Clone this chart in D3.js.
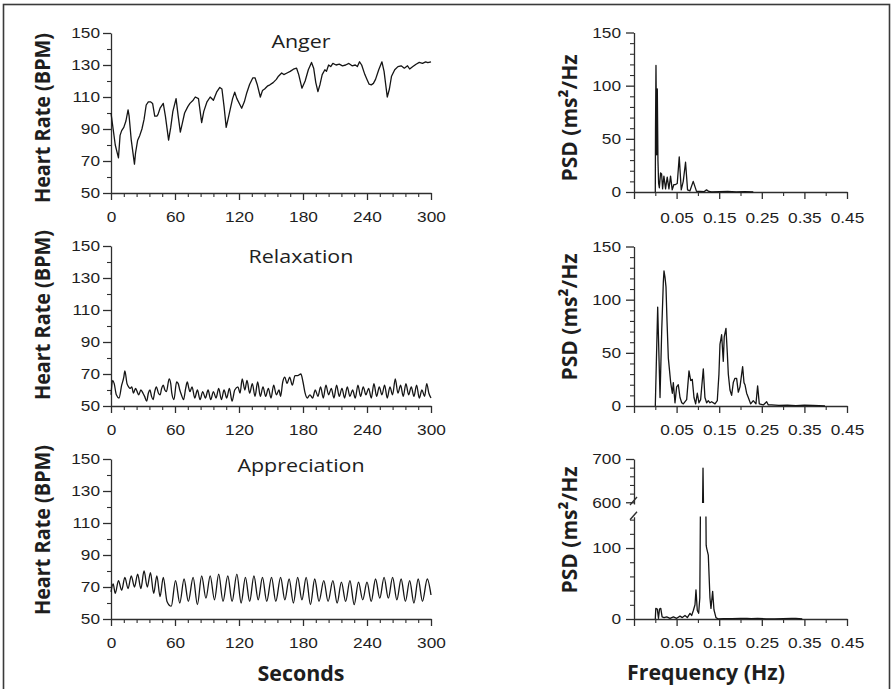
<!DOCTYPE html>
<html>
<head>
<meta charset="utf-8">
<script src="https://cdn.jsdelivr.net/npm/d3@7"></script>
<style>
  body { margin: 0; background: #fff; }
  svg { display: block; }
</style>
</head>
<body>
<svg id="chart" width="893" height="689"></svg>
<script>
// ---------- Heart rate traces (seconds, beats per minute) ----------
const angerTime = [
  0, 2, 4, 7, 8.5, 10, 12, 14, 16, 17,
  19, 22, 23, 25, 27, 29, 31, 33, 35, 37,
  39, 41, 43, 44, 46, 49, 51, 54, 56, 58,
  61, 63, 65, 67, 69, 72, 74, 77, 79, 82,
  85, 87, 90, 93, 96, 99, 102, 104, 106, 108,
  110, 112, 114, 116, 118, 121, 122.5, 125, 127, 130,
  133, 135, 137, 140, 142, 144, 147, 149, 152, 155,
  157, 160, 162, 165, 168, 171, 174, 176, 179, 182,
  185, 188, 190, 192, 194, 196, 198, 200.5, 202, 204,
  206, 208, 211, 214, 217, 220, 223, 226, 229, 231,
  233, 235, 238, 240, 242, 244, 246, 248, 251, 254,
  256, 259, 261, 263, 266, 269, 272, 275, 278, 280,
  283, 286, 289, 292, 295, 297, 300
];
const angerBPM = [
  100, 90, 80, 72, 86, 89, 91, 95, 102, 98,
  83, 68, 75, 83, 86, 90, 96, 105, 107, 107,
  106, 98, 98, 99, 103, 106, 98, 83, 91, 101,
  109, 98, 88, 94, 100, 104, 106, 108, 110, 109,
  94, 101, 107, 110, 108, 113, 116, 115, 104, 91,
  97, 103, 109, 113, 109, 105, 103, 107, 112, 118,
  122, 122, 118, 110, 114, 115, 117, 117.6, 119, 121,
  123, 125, 124, 125, 126, 127.4, 128, 124, 115.5, 120,
  127, 131.6, 128, 119, 113.4, 118, 124, 127, 126, 130,
  129, 131, 130, 130.5, 129.5, 130, 131, 129.5, 130, 129,
  132, 130, 124, 121, 118, 117.6, 118.5, 121, 127, 132,
  126, 110, 115, 123, 127, 129, 129.5, 128, 129.5, 127.5,
  129, 130.5, 131.6, 131, 132, 131.5, 132
];

const relaxTime = [
  0, 1.5, 3, 5, 7.5, 10, 12, 13, 15, 16.5,
  18, 19.5, 21, 23, 24.5, 26, 28, 30, 31.5, 33.5,
  35, 36.5, 38, 39.5, 41, 42.5, 44.5, 46, 47.5, 49,
  50.5, 52, 54.5, 56, 57, 59, 61.5, 63, 64.5, 66,
  68, 70, 71.5, 73, 74, 76, 78.5, 81, 83.5, 86,
  88.5, 91, 93.5, 96, 98.5, 101, 103.5, 106, 108.5, 111,
  113.5, 116, 119, 121, 123, 125.5, 127.5, 130, 132.5, 135,
  137.5, 140, 142.5, 145, 147.5, 150, 152.5, 155, 157.5, 159,
  161, 163, 165, 167.5, 170, 172.5, 175, 178, 180, 182,
  184, 186.5, 189, 191.5, 194, 196.5, 199, 201.5, 204, 206.5,
  209, 211.5, 214, 216.5, 219, 221.5, 224, 226.5, 229, 231.5,
  234, 236.5, 239, 241.5, 244, 246.5, 249, 251.5, 254, 256.5,
  259, 261.5, 264, 266.5, 269, 271.5, 274, 276.5, 279, 281.5,
  284, 286.5, 289, 291.5, 294, 296, 298, 300
];
const relaxBPM = [
  57, 66, 64, 57, 55, 63, 68, 72, 64, 62,
  61, 62, 58, 61, 59, 57, 60, 58, 56, 53,
  58, 60, 56, 54, 59, 62, 58, 57, 61, 63,
  60, 59, 67, 64, 58, 54, 65, 64, 60, 57,
  54, 61, 65, 61, 59, 62, 55, 60, 54, 59,
  55, 60, 54, 59, 55, 61, 54, 60, 55, 61,
  53, 60, 62, 58, 67, 60, 66, 58, 64, 56,
  65, 56, 62, 56, 61, 55, 63, 57, 60, 56,
  65, 68, 64, 68, 63, 69, 69, 70, 65, 58,
  55, 57, 55, 60, 56, 62, 55, 63, 57, 61,
  55, 63, 56, 61, 55, 62, 56, 60, 55, 63,
  56, 62, 57, 61, 55, 64, 56, 62, 57, 63,
  55, 62, 57, 67, 58, 63, 56, 64, 57, 62,
  56, 63, 55, 60, 56, 64, 58, 55
];

const apprecTime = [
  0, 2, 4, 7, 10, 13, 16, 19, 22, 25,
  28, 31, 34, 37, 40, 43, 46, 49, 52.5, 56.5,
  60.5, 64.5, 68.5, 72.5, 77, 81, 85, 89, 93, 97,
  101, 105, 109.5, 113.5, 118, 122, 126, 130, 134, 138,
  142, 146, 150.5, 154.5, 159, 163, 167, 171, 175, 179,
  183, 187, 191, 195, 199.5, 203.5, 208, 212, 216, 220,
  224, 228, 232, 236, 240, 244, 248, 252, 256, 260,
  264, 268, 272, 276, 280, 284, 288, 292, 296.5, 300
];
const apprecBPM = [
  67, 72, 66, 74, 68, 76, 69, 77, 70, 78,
  69, 80, 70, 79, 66, 77, 64, 76, 61, 58,
  74, 60, 75, 61, 76, 59, 77, 63, 77, 62,
  78, 61, 77, 61, 78, 60, 76, 61, 77, 62,
  76, 61, 76, 61, 76, 62, 75, 60, 76, 62,
  76, 59, 75, 61, 74, 61, 74, 60, 73, 61,
  74, 59, 73, 62, 73, 61, 75, 63, 76, 63,
  76, 62, 75, 61, 74, 60, 75, 61, 75, 65
];

// ---------- Power spectral density (Hz, ms²/Hz) ----------
const angerFreq = [
  0, 0.0005, 0.0016, 0.0032, 0.0047, 0.0062, 0.0078, 0.0095, 0.0124, 0.0148,
  0.0171, 0.0202, 0.0241, 0.0262, 0.028, 0.032, 0.0358, 0.0397, 0.0436, 0.0475,
  0.0515, 0.0562, 0.0609, 0.0656, 0.071, 0.0757, 0.0812, 0.089, 0.0968, 0.105,
  0.115, 0.1203, 0.1258, 0.132, 0.15, 0.17, 0.19, 0.21, 0.23
];
const angerPSD = [
  0, 58, 119, 35, 97, 30, 8, 4, 18, 17,
  3, 15, 3, 9, 14, 3, 15, 2, 7, 7,
  8, 33, 2, 10, 28, 2, 1, 10, 0.6, 0.5,
  0.4, 2, 0.5, 0, 0.3, 0.5, 0.2, 0.4, 0
];

const relaxFreq = [
  0, 0.0056, 0.0111, 0.015, 0.0189, 0.0204, 0.0228, 0.0251, 0.0275, 0.0306,
  0.0361, 0.04, 0.0423, 0.0462, 0.0501, 0.054, 0.058, 0.062, 0.0658, 0.0736,
  0.0791, 0.083, 0.0868, 0.0908, 0.0947, 0.0986, 0.1025, 0.1064, 0.1127, 0.1165,
  0.1205, 0.1244, 0.1283, 0.1322, 0.1401, 0.1455, 0.1494, 0.1518, 0.1557, 0.1596,
  0.1618, 0.1659, 0.169, 0.1714, 0.1753, 0.1792, 0.1831, 0.187, 0.1909, 0.1948,
  0.1988, 0.2027, 0.205, 0.2082, 0.2105, 0.2144, 0.2183, 0.2238, 0.23, 0.2363,
  0.2402, 0.2441, 0.2535, 0.2614, 0.2653, 0.2731, 0.29, 0.31, 0.33, 0.35,
  0.37, 0.3983
];
const relaxPSD = [
  0, 93, 8, 70, 117, 127, 121, 112, 80, 45,
  22, 12, 22, 3, 18, 20, 8, 3, 2, 6,
  33, 24, 25, 8, 2, 12, 3, 6, 35, 8,
  3, 5, 3, 4, 2, 5, 30, 58, 67, 42,
  65, 73, 50, 30, 15, 10, 22, 26, 26, 13,
  18, 30, 37, 22, 20, 12, 8, 2, 5, 2,
  19, 2, 1, 4, 1, 1, 0.5, 0.8, 0.4, 0.7,
  0.5, 0
];

const apprecFreq = [
  0, 0.0012, 0.0047, 0.0075, 0.0098, 0.0128, 0.016, 0.0204, 0.0268, 0.0346,
  0.0425, 0.0502, 0.058, 0.0634, 0.0697, 0.0752, 0.0814, 0.0853, 0.0893, 0.0932,
  0.0955, 0.0986, 0.1018, 0.1045, 0.112, 0.1194, 0.1205, 0.1244, 0.1283, 0.1307,
  0.1346, 0.1377, 0.1424, 0.1479, 0.16, 0.18, 0.2, 0.215, 0.225, 0.24,
  0.26, 0.28, 0.3, 0.32, 0.33, 0.345
];
const apprecPSD = [
  0, 15, 14, 1, 14, 15, 3, 2, 3, 1,
  3, 1, 4, 2, 5, 2, 8, 5, 12, 20,
  41, 12, 8, 30, 679, 104, 100, 90, 30, 15,
  39, 13, 2, 0, 0.4, 0.5, 1, 1, 0.5, 1,
  0.3, 0.2, 0.5, 1, 1, 0
];

// ---------- Tick values ----------
const bpmTicks = [50, 70, 90, 110, 130, 150];
const bpmMinor = [60, 80, 100, 120, 140];
const secTicks = [0, 60, 120, 180, 240, 300];
const psdTicks = [0, 50, 100, 150];
const hzTicks = [-0.05, 0.05, 0.15, 0.25, 0.35, 0.45];
const hzMinor = [0, 0.1, 0.2, 0.3, 0.4];
const psdLowTicks = [0, 100];
const psdLowMinor = [20, 40, 60, 80, 120, 140];
const psdHighTicks = [600, 700];
const psdHighMinor = [620, 640, 660, 680];

// ---------- Drawing ----------
const svg = d3.select("#chart");
const INK = "#151515";
const AXIS = "#2e2e2e";
const TICK_FONT = "'Liberation Sans', Arial, Helvetica, sans-serif";
const LABEL_FONT = "'Open Sans', 'Noto Sans', sans-serif";

// widen or fit a text element horizontally
function stretch(sel, k) {
  sel.each(function () {
    const w = this.getComputedTextLength();
    d3.select(this).attr("textLength", w * k).attr("lengthAdjust", "spacingAndGlyphs");
  });
}
function fit(sel, w) {
  sel.attr("textLength", w).attr("lengthAdjust", "spacingAndGlyphs");
}

svg.append("rect")
  .attr("x", 3.5).attr("y", 4.5).attr("width", 886).attr("height", 700)
  .attr("fill", "none").attr("stroke", "#3a3a3a").attr("stroke-width", 1.6);

function styleAxis(g) {
  g.attr("font-family", TICK_FONT).attr("font-size", 15).attr("color", AXIS);
  g.selectAll("path, line").attr("stroke", AXIS).attr("stroke-width", 1.3);
  g.selectAll("text").attr("fill", "#1e1e1e");
  stretch(g.selectAll("text"), 1.15);
}

function minorAxis(parent, axis, transform) {
  const g = parent.append("g").attr("transform", transform).call(axis);
  g.select(".domain").remove();
  g.selectAll("line").attr("stroke", AXIS).attr("stroke-width", 1.1);
  return g;
}

// ----- Left column: heart rate over time -----
const xSec = d3.scaleLinear().domain([0, 300]).range([111, 431]);
const hrPanels = [
  { title: "Anger", time: angerTime, bpm: angerBPM, base: 193, titleY: 48, labelY: 118, curve: d3.curveLinear },
  { title: "Relaxation", time: relaxTime, bpm: relaxBPM, base: 406, titleY: 263, labelY: 315, curve: d3.curveMonotoneX },
  { title: "Appreciation", time: apprecTime, bpm: apprecBPM, base: 619, titleY: 472, labelY: 530, curve: d3.curveMonotoneX }
];

hrPanels.forEach(p => {
  const g = svg.append("g");
  const y = d3.scaleLinear().domain([50, 150]).range([p.base, p.base - 160]);

  minorAxis(g, d3.axisLeft(y).tickValues(bpmMinor).tickSize(4).tickFormat(""), `translate(${xSec(0)},0)`);
  minorAxis(g, d3.axisBottom(xSec).tickValues(d3.range(12, 300, 12).filter(v => v % 60 !== 0)).tickSize(4).tickFormat(""), `translate(0,${p.base})`);

  g.append("g").attr("transform", `translate(${xSec(0)},0)`)
    .call(d3.axisLeft(y).tickValues(bpmTicks).tickSize(8).tickPadding(3).tickSizeOuter(0))
    .call(styleAxis);
  g.append("g").attr("transform", `translate(0,${p.base})`)
    .call(d3.axisBottom(xSec).tickValues(secTicks).tickSize(7).tickPadding(11).tickSizeOuter(0))
    .call(styleAxis);

  const line = d3.line().x(i => xSec(p.time[i])).y(i => y(p.bpm[i])).curve(p.curve);
  g.append("path").attr("d", line(d3.range(p.time.length)))
    .attr("fill", "none").attr("stroke", INK).attr("stroke-width", 1.3).attr("stroke-linejoin", "round");

  g.append("text").text(p.title)
    .attr("x", 301).attr("y", p.titleY).attr("text-anchor", "middle")
    .attr("font-family", LABEL_FONT).attr("font-size", 18).attr("fill", "#1e1e1e")
    .call(stretch, 1.19);

  g.append("text").text("Heart Rate (BPM)")
    .attr("transform", `translate(50,${p.labelY}) rotate(-90)`)
    .attr("text-anchor", "middle").attr("font-family", LABEL_FONT)
    .attr("font-weight", 700).attr("font-size", 22).attr("fill", "#1e1e1e")
    .call(fit, 170);
});

svg.append("text").text("Seconds")
  .attr("x", 301).attr("y", 681).attr("text-anchor", "middle")
  .attr("font-family", LABEL_FONT).attr("font-weight", 700).attr("font-size", 22).attr("fill", "#1e1e1e")
  .call(fit, 87);

// ----- Right column: power spectra -----
const xHz = d3.scaleLinear().domain([-0.05, 0.45]).range([634, 847]);
const hzFormat = v => v < 0 ? "" : d3.format(".2f")(v);

function psdAxesX(g, base, pad) {
  minorAxis(g, d3.axisBottom(xHz).tickValues(hzMinor).tickSize(4).tickFormat(""), `translate(0,${base})`);
  g.append("g").attr("transform", `translate(0,${base})`)
    .call(d3.axisBottom(xHz).tickValues(hzTicks).tickFormat(hzFormat).tickSize(7).tickPadding(pad).tickSizeOuter(0))
    .call(styleAxis);
}

function psdLabel(g, cy) {
  g.append("text").text("PSD (ms²/Hz")
    .attr("transform", `translate(577,${cy}) rotate(-90)`)
    .attr("text-anchor", "middle").attr("font-family", LABEL_FONT)
    .attr("font-weight", 700).attr("font-size", 22).attr("fill", "#1e1e1e")
    .call(fit, 127);
}

function psdLine(freq, psd, y) {
  return d3.line().x(i => xHz(freq[i])).y(i => y(psd[i]))(d3.range(freq.length));
}

const psdPanels = [
  { freq: angerFreq, psd: angerPSD, base: 192, labelY: 118, pad: 13 },
  { freq: relaxFreq, psd: relaxPSD, base: 406, labelY: 317, pad: 11 }
];

psdPanels.forEach(p => {
  const g = svg.append("g");
  const y = d3.scaleLinear().domain([0, 150]).range([p.base, p.base - 159.5]);
  minorAxis(g, d3.axisLeft(y).tickValues(d3.range(10, 150, 10).filter(v => v % 50 !== 0)).tickSize(4).tickFormat(""), `translate(${xHz(-0.05)},0)`);
  g.append("g").attr("transform", `translate(${xHz(-0.05)},0)`)
    .call(d3.axisLeft(y).tickValues(psdTicks).tickSize(8).tickPadding(5).tickSizeOuter(0))
    .call(styleAxis);
  psdAxesX(g, p.base, p.pad);
  g.append("path").attr("d", psdLine(p.freq, p.psd, y))
    .attr("fill", "none").attr("stroke", INK).attr("stroke-width", 1.3).attr("stroke-linejoin", "round");
  psdLabel(g, p.labelY);
});

// Third spectrum uses a broken y axis: 0–144 below, 596–700 above
{
  const g = svg.append("g");
  const yLow = d3.scaleLinear().domain([0, 144]).range([619, 516.8]);
  const yHigh = d3.scaleLinear().domain([596, 700]).range([504, 459]);
  const x0 = xHz(-0.05);

  const defs = svg.append("defs");
  defs.append("clipPath").attr("id", "clip-low")
    .append("rect").attr("x", x0).attr("y", 516.5).attr("width", 220).attr("height", 110);
  defs.append("clipPath").attr("id", "clip-high")
    .append("rect").attr("x", x0).attr("y", 452).attr("width", 220).attr("height", 51);

  minorAxis(g, d3.axisLeft(yLow).tickValues(psdLowMinor).tickSize(4).tickFormat(""), `translate(${x0},0)`);
  minorAxis(g, d3.axisLeft(yHigh).tickValues(psdHighMinor).tickSize(4).tickFormat(""), `translate(${x0},0)`);
  g.append("g").attr("transform", `translate(${x0},0)`)
    .call(d3.axisLeft(yLow).tickValues(psdLowTicks).tickSize(8).tickPadding(5).tickSizeOuter(0))
    .call(styleAxis);
  g.append("g").attr("transform", `translate(${x0},0)`)
    .call(d3.axisLeft(yHigh).tickValues(psdHighTicks).tickSize(8).tickPadding(5).tickSizeOuter(0))
    .call(styleAxis);

  // break marks on the axis
  const brk = [[yHigh(596) + 1, yHigh(596) - 7], [yLow(144) + 3, yLow(144) - 5]];
  brk.forEach(([ya, yb]) => {
    g.append("line").attr("x1", x0 - 4).attr("y1", ya).attr("x2", x0 + 3).attr("y2", yb)
      .attr("stroke", AXIS).attr("stroke-width", 1.4);
  });

  psdAxesX(g, 619, 11);

  g.append("path").attr("d", psdLine(apprecFreq, apprecPSD, yLow)).attr("clip-path", "url(#clip-low)")
    .attr("fill", "none").attr("stroke", INK).attr("stroke-width", 1.3).attr("stroke-linejoin", "round");
  g.append("path").attr("d", psdLine(apprecFreq, apprecPSD, yHigh)).attr("clip-path", "url(#clip-high)")
    .attr("fill", "none").attr("stroke", INK).attr("stroke-width", 1.3).attr("stroke-linejoin", "round");

  psdLabel(g, 530);
}

svg.append("text").text("Frequency (Hz)")
  .attr("x", 706).attr("y", 680).attr("text-anchor", "middle")
  .attr("font-family", LABEL_FONT).attr("font-weight", 700).attr("font-size", 22).attr("fill", "#1e1e1e")
  .call(fit, 158);
</script>
</body>
</html>
